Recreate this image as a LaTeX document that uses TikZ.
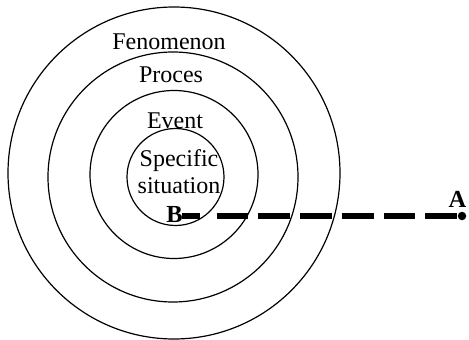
\documentclass[tikz,border=0pt]{standalone}
\usepackage{fontspec}
\setmainfont{Liberation Serif}
\begin{document}
\begin{tikzpicture}[x=1pt,y=-1pt,
  ring/.style={draw, circle, line width=1.2pt, inner sep=0pt},
  lbl/.style={anchor=base, inner sep=0pt, font=\fontsize{24}{26}\selectfont},
  pt/.style={anchor=base, inner sep=0pt, font=\fontsize{24.5}{26}\selectfont\bfseries},
  link/.style={line width=5.3pt, dash pattern=on 18pt off 16.7pt on 31.7pt off 10pt on 31.7pt off 10pt on 31.7pt off 10pt on 31.7pt off 10pt on 31.7pt off 10pt on 31.7pt off 10pt on 23.3pt off 30pt}
]
\useasboundingbox (0,0) rectangle (469,340);
\node[ring, minimum size=332pt] (c1) at (174,173) {};
\node[ring, minimum size=250pt] (c2) at (173,177) {};
\node[ring, minimum size=168pt] (c3) at (174,174.5) {};
\node[ring, minimum size=97pt] (c4) at (175.5,177) {};
\node[lbl] (fen) at (169,49.3) {Fenomenon};
\node[lbl] (pro) at (171,82.7) {Proces};
\node[lbl] (evt) at (175,128) {Event};
\node[lbl] (spe) at (179,166.7) {Specific};
\node[lbl] (sit) at (179,193.3) {situation};
\node[pt] (B) at (174.5,222) {B};
\node[pt] (A) at (457.5,207) {A};
\node[circle, fill, inner sep=0pt, minimum size=8.5pt] (Ad) at (462,216) {};
\coordinate (Bs) at (182,216);
\draw[link] (Bs) -- (Ad.west);
\end{tikzpicture}
\end{document}
